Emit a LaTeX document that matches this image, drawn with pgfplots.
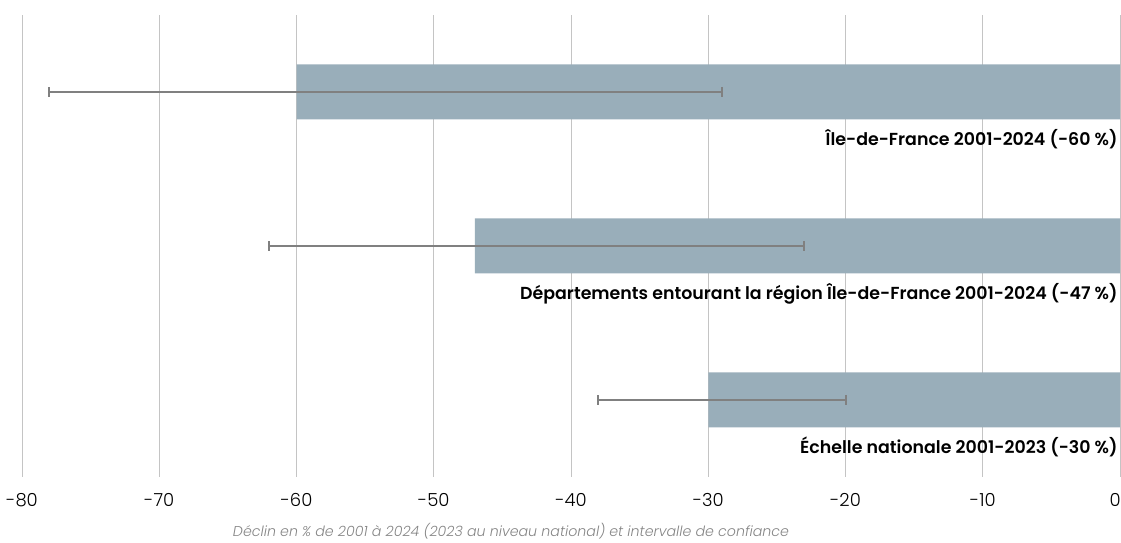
\documentclass[border=0pt]{standalone}
\usepackage{fontspec}
\setmainfont{Poppins}[UprightFont=* Light, BoldFont=* SemiBold, ItalicFont=* Light Italic, BoldItalicFont=* SemiBold Italic]
\usepackage{pgfplots}
\pgfplotsset{compat=1.18}
\definecolor{barc}{HTML}{99AEBA}
\definecolor{errc}{HTML}{808080}
\definecolor{gridc}{HTML}{C4C4C4}
\definecolor{capc}{HTML}{858585}
\begin{document}
\begin{tikzpicture}
\begin{axis}[
  scale only axis,
  width=549pt, height=231pt,
  xmin=-80, xmax=0, ymin=-0.5, ymax=2.5,
  xtick={-80,-70,...,-10},
  extra x ticks={0},
  extra x tick style={xticklabel style={anchor=north east, xshift=0.5pt}},
  ytick=\empty,
  axis line style={draw=none},
  major tick length=0pt,
  xmajorgrids,
  x grid style={gridc, line width=0.5pt},
  /pgf/number format/assume math mode=true,
  xticklabel style={font=\fontsize{9}{10}\selectfont, anchor=north, inner sep=0pt, yshift=-8pt, text=black},
  clip=false,
]
\addplot[xbar, bar width=27.5pt, fill=barc, draw=none] coordinates {(-30,0) (-47,1) (-60,2)};
\addplot[draw=none, mark=none,
  error bars/.cd, x dir=both, x explicit,
  error bar style={errc, line width=1pt},
  error mark options={errc, line width=1pt, mark size=2.5pt, rotate=90}]
  coordinates {(-29,0) +- (9,0) (-42.5,1) +- (19.5,0) (-53.5,2) +- (24.5,0)};
\node[anchor=base east, font=\fontsize{8.7}{10}\selectfont\bfseries, inner sep=0pt, xshift=-1pt, yshift=-27pt] at (axis cs:0,2) {Île-de-France 2001-2024 (-60 \%)};
\node[anchor=base east, font=\fontsize{8.7}{10}\selectfont\bfseries, inner sep=0pt, xshift=-1pt, yshift=-27pt] at (axis cs:0,1) {Départements entourant la région Île-de-France 2001-2024 (-47 \%)};
\node[anchor=base east, font=\fontsize{8.7}{10}\selectfont\bfseries, inner sep=0pt, xshift=-1pt, yshift=-27pt] at (axis cs:0,0) {Échelle nationale 2001-2023 (-30 \%)};
\node[anchor=center, font=\fontsize{7.1}{9}\selectfont\itshape, text=capc, inner sep=0pt] at ([xshift=244.5pt, yshift=-27pt]rel axis cs:0,0) {Déclin en \% de 2001 à 2024 (2023 au niveau national) et intervalle de confiance};
\coordinate (bbA) at ([xshift=-11pt, yshift=7.5pt]rel axis cs:0,1);
\coordinate (bbB) at ([xshift=0.5pt, yshift=-33pt]rel axis cs:1,0);
\end{axis}
\pgfresetboundingbox
\path[use as bounding box] (bbA) rectangle (bbB);
\end{tikzpicture}
\end{document}
